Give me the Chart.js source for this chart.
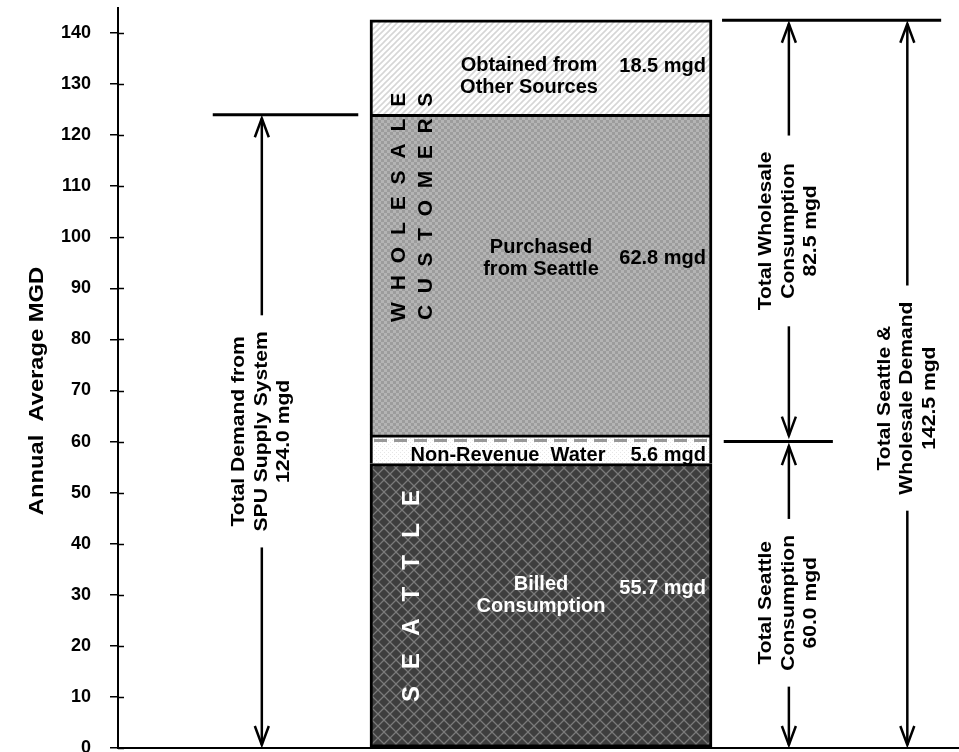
<!DOCTYPE html>
<html>
<head>
<meta charset="utf-8">
<script src="https://cdn.jsdelivr.net/npm/chart.js@4.4.0/dist/chart.umd.min.js"></script>
<style>
  html, body { margin: 0; padding: 0; overflow: hidden; background: #fff; }
  canvas { display: block; }
</style>
</head>
<body>
<canvas id="demandChart" width="964" height="752"></canvas>
<script>
// Data
const categories = ['Annual Average Demand'];
const segmentNames = ['Billed Consumption', 'Non-Revenue Water', 'Purchased from Seattle', 'Obtained from Other Sources'];
const segmentLines = [['Billed', 'Consumption'], ['Non-Revenue  Water'], ['Purchased', 'from Seattle'], ['Obtained from', 'Other Sources']];
const segmentValues = [55.7, 5.6, 62.8, 18.5];
const yTickStep = 10;
const yMax = 145;

// Brackets on the sides (from / to in mgd)
const bracketLines = [['Total Demand from', 'SPU Supply System'], ['Total Wholesale', 'Consumption'], ['Total Seattle', 'Consumption'], ['Total Seattle &', 'Wholesale Demand']];
const bracketFrom = [0, 60.0, 0, 0];
const bracketTo = [124.0, 142.5, 60.0, 142.5];

const FONT = '"Liberation Sans", Arial, sans-serif';

// Fill patterns
function makePattern(size, draw) {
    const c = document.createElement('canvas');
    c.width = size; c.height = size;
    draw(c.getContext('2d'), size);
    return c.getContext('2d').createPattern(c, 'repeat');
}
const latticeFill = makePattern(12, (g, s) => {
    g.fillStyle = '#3e3e3e'; g.fillRect(0, 0, s, s);
    g.strokeStyle = '#7a7a7a'; g.lineWidth = 1.3;
    g.beginPath();
    g.moveTo(-1, -1); g.lineTo(s + 1, s + 1);
    g.moveTo(s + 1, -1); g.lineTo(-1, s + 1);
    g.stroke();
});
const dotFill = makePattern(4, (g, s) => {
    g.fillStyle = '#ffffff'; g.fillRect(0, 0, s, s);
    g.fillStyle = '#e6e6e6'; g.fillRect(0, 0, 1, 1); g.fillRect(2, 2, 1, 1);
});
const checkerFill = makePattern(6, (g, s) => {
    g.fillStyle = '#b4b4b4'; g.fillRect(0, 0, s, s);
    g.fillStyle = '#9c9c9c'; g.fillRect(0, 0, 3, 3); g.fillRect(3, 3, 3, 3);
});
const stripeFill = makePattern(6, (g, s) => {
    g.fillStyle = '#ffffff'; g.fillRect(0, 0, s, s);
    g.strokeStyle = '#d6d6d6'; g.lineWidth = 1.6;
    g.beginPath();
    g.moveTo(-1, s + 1); g.lineTo(s + 1, -1);
    g.moveTo(-1, 1); g.lineTo(1, -1);
    g.moveTo(s - 1, s + 1); g.lineTo(s + 1, s - 1);
    g.stroke();
});
const segmentFills = [latticeFill, dotFill, checkerFill, stripeFill];
const segmentTextColors = ['#ffffff', '#000000', '#000000', '#000000'];

// Helpers for the overlay
function verticalLines(ctx, lines, cx, cy, gap, font, stretch) {
    ctx.save();
    ctx.translate(cx, cy);
    ctx.rotate(-Math.PI / 2);
    ctx.scale(stretch, 1);
    ctx.font = font;
    ctx.textAlign = 'center';
    ctx.textBaseline = 'middle';
    lines.forEach((t, i) => ctx.fillText(t, 0, (i - (lines.length - 1) / 2) * gap));
    ctx.restore();
}

function spacedVertical(ctx, text, cx, yBottom, yTop) {
    const chars = [...text];
    const widths = chars.map(c => ctx.measureText(c).width);
    const total = widths.reduce((s, w) => s + w, 0);
    const gap = (yBottom - yTop - total) / (chars.length - 1);
    ctx.save();
    ctx.translate(cx, yBottom);
    ctx.rotate(-Math.PI / 2);
    ctx.textAlign = 'left';
    ctx.textBaseline = 'middle';
    let pos = 0;
    chars.forEach((c, i) => { ctx.fillText(c, pos, 0); pos += widths[i] + gap; });
    ctx.restore();
}

function arrow(ctx, x, yTip, yTail) {
    const dir = yTail > yTip ? 1 : -1;
    ctx.beginPath();
    ctx.moveTo(x, yTail); ctx.lineTo(x, yTip);
    ctx.stroke();
    ctx.beginPath();
    ctx.moveTo(x - 7, yTip + dir * 19); ctx.lineTo(x, yTip); ctx.lineTo(x + 7, yTip + dir * 19);
    ctx.stroke();
}

// Overlay: labels, brackets, arrows
const overlay = {
    id: 'overlay',
    afterDraw(chart, args, opts) {
        const { ctx, chartArea: area, scales: { x, y } } = chart;
        ctx.save();

        // inner half of the y ticks
        ctx.strokeStyle = '#000'; ctx.lineWidth = 1.5;
        y.ticks.forEach(t => {
            const py = Math.round(y.getPixelForValue(t.value)) + 0.5;
            ctx.beginPath(); ctx.moveTo(area.left, py); ctx.lineTo(area.left + 6, py); ctx.stroke();
        });

        // y axis title
        ctx.fillStyle = '#000';
        verticalLines(ctx, ['Annual  Average MGD'], 37, 391, 0, 'bold 21px ' + FONT, 1.13);

        // dashed split line inside non-revenue water
        const bar = chart.getDatasetMeta(1).data[0];
        const bl = bar.x - bar.width / 2, br = bar.x + bar.width / 2;
        ctx.save();
        ctx.strokeStyle = '#999'; ctx.lineWidth = 3; ctx.setLineDash([13, 7]);
        const dy = y.getPixelForValue(bracketTo[2]) - 1;
        ctx.beginPath(); ctx.moveTo(bl + 4, dy); ctx.lineTo(br - 3, dy); ctx.stroke();
        ctx.restore();

        // segment labels
        segmentValues.forEach((v, i) => {
            const el = chart.getDatasetMeta(i).data[0];
            const right = el.x + el.width / 2;
            ctx.fillStyle = segmentTextColors[i];
            ctx.font = 'bold 20px ' + FONT;
            ctx.textBaseline = 'middle';
            ctx.textAlign = 'center';
            const lines = segmentLines[i];
            const cy = y.getPixelForValue(opts.nameAt[i]);
            lines.forEach((t, k) => ctx.fillText(t, el.x + opts.nameDx[i], cy + (k - (lines.length - 1) / 2) * 22));
            ctx.textAlign = 'right';
            ctx.fillText(v.toFixed(1) + ' mgd', right - 6, y.getPixelForValue(opts.valueAt[i]));
        });

        // group words inside the bar
        ctx.font = 'bold 21px ' + FONT;
        ctx.fillStyle = '#000';
        spacedVertical(ctx, 'WHOLESALE', 399, y.getPixelForValue(83.4), y.getPixelForValue(128.3));
        spacedVertical(ctx, 'CUSTOMERS', 426, y.getPixelForValue(83.8), y.getPixelForValue(128.3));
        ctx.font = 'bold 24px ' + FONT;
        ctx.fillStyle = '#fff';
        spacedVertical(ctx, 'SEATTLE', 412, y.getPixelForValue(9.0), y.getPixelForValue(50.5));

        // horizontal reference lines
        ctx.strokeStyle = '#000'; ctx.lineWidth = 3;
        opts.refLines.forEach(r => {
            const py = y.getPixelForValue(r.v);
            ctx.beginPath(); ctx.moveTo(x.getPixelForValue(r.x0), py); ctx.lineTo(x.getPixelForValue(r.x1), py); ctx.stroke();
        });

        // brackets with arrows and rotated labels
        ctx.lineWidth = 2.5; ctx.lineJoin = 'miter';
        const bFont = 'bold 18px ' + FONT;
        const stretch = 1.17;
        bracketLines.forEach((lines, i) => {
            const all = lines.concat([(bracketTo[i] - bracketFrom[i]).toFixed(1) + ' mgd']);
            const px = x.getPixelForValue(opts.bracketX[i]);
            const top = y.getPixelForValue(bracketTo[i]) + opts.tipGap[i][0];
            const bottom = y.getPixelForValue(bracketFrom[i]) - opts.tipGap[i][1];
            const cy = (y.getPixelForValue(bracketTo[i]) + y.getPixelForValue(bracketFrom[i])) / 2 + opts.textShift[i];
            ctx.font = bFont;
            const half = Math.max(...all.map(t => ctx.measureText(t).width)) * stretch / 2;
            ctx.fillStyle = '#000';
            verticalLines(ctx, all, px, cy, 22.5, bFont, stretch);
            arrow(ctx, px, top, cy - half - 16);
            arrow(ctx, px, bottom, cy + half + 16);
        });

        ctx.restore();
    }
};

const ctx = document.getElementById('demandChart').getContext('2d');
const myChart = new Chart(ctx, {
    type: 'bar',
    data: {
        datasets: segmentValues.map((v, i) => ({
            label: segmentNames[i],
            data: [{ x: 50, y: v }],
            backgroundColor: segmentFills[i],
            borderColor: '#000',
            borderWidth: 3,
            borderSkipped: i === 0 ? false : 'start',
            barThickness: 342
        }))
    },
    options: {
        responsive: false,
        animation: false,
        devicePixelRatio: 1,
        layout: { padding: { left: 0, right: 0, top: 7.5, bottom: 4 } },
        plugins: {
            legend: { display: false },
            tooltip: { enabled: false },
            title: { display: false },
            overlay: {
                nameDx: [0, -33, 0, -12],
                nameAt: [29.8, 57.2, 95.8, 131.4],
                valueAt: [31.3, 57.2, 95.9, 133.5],
                bracketX: [17.0, 79.3, 79.3, 93.3],
                tipGap: [[3.5, 3], [3.5, 6], [4.5, 3], [3.5, 3]],
                textShift: [0, 0, 8, 14],
                refLines: [
                    { v: bracketTo[0], x0: 11.2, x1: 28.4 },
                    { v: bracketTo[3], x0: 71.4, x1: 97.3 },
                    { v: bracketTo[2], x0: 71.6, x1: 84.5 }
                ]
            }
        },
        scales: {
            x: {
                type: 'linear',
                min: 0,
                max: 100,
                offset: false,
                stacked: true,
                ticks: { display: false },
                grid: { display: false, drawTicks: false, offset: false },
                border: { display: true, color: '#000', width: 2 },
                afterFit: (s) => { s.height = 0; s.paddingLeft = 0; s.paddingRight = 0; }
            },
            y: {
                stacked: true,
                min: 0,
                max: yMax,
                ticks: {
                    stepSize: yTickStep,
                    includeBounds: false,
                    color: '#000',
                    padding: 19,
                    font: { family: FONT, size: 18, weight: 'bold' }
                },
                grid: { display: true, drawOnChartArea: false, drawTicks: true, tickLength: 8, color: '#000', lineWidth: 1.5 },
                border: { display: true, color: '#000', width: 2 },
                afterFit: (s) => { s.width = 118; s.paddingTop = 0; s.paddingBottom = 0; }
            }
        }
    },
    plugins: [overlay]
});
</script>
</body>
</html>
